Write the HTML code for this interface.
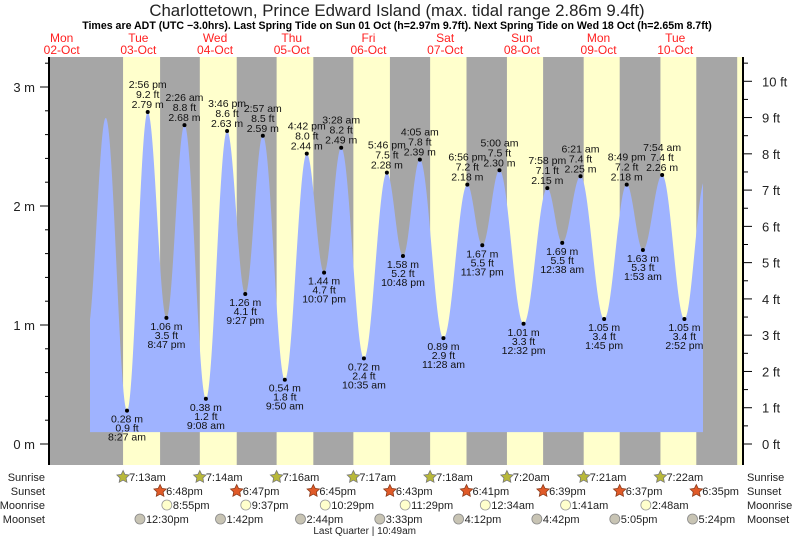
<!DOCTYPE html>
<html><head><meta charset="utf-8"><style>
body{margin:0;background:#fff;width:793px;height:539px;overflow:hidden}
svg{display:block;font-family:"Liberation Sans",sans-serif}
</style></head><body>
<svg id="chart" width="793" height="539" viewBox="0 0 793 539">
<text x="397" y="16" text-anchor="middle" font-size="16.8" fill="#222">Charlottetown, Prince Edward Island (max. tidal range 2.86m 9.4ft)</text>
<text x="397" y="29" text-anchor="middle" font-size="10.6" font-weight="bold" fill="#000">Times are ADT (UTC −3.0hrs). Last Spring Tide on Sun 01 Oct (h=2.97m 9.7ft). Next Spring Tide on Wed 18 Oct (h=2.65m 8.7ft)</text>
<g id="bands"></g><g id="water"></g><g id="axes"></g><g id="marks"></g><g id="labels"></g><g id="astro"></g>
</svg>
<script>
const dayNames=["Mon","Tue","Wed","Thu","Fri","Sat","Sun","Mon","Tue"];
const dayDates=["02-Oct","03-Oct","04-Oct","05-Oct","06-Oct","07-Oct","08-Oct","09-Oct","10-Oct"];
const sunrise=["7:13","7:14","7:16","7:17","7:18","7:20","7:21","7:22","7:23"];
const sunset=["18:48","18:47","18:45","18:43","18:41","18:39","18:37","18:35"];
const sunriseLbl=["7:13am","7:14am","7:16am","7:17am","7:18am","7:20am","7:21am","7:22am"];
const sunsetLbl=["6:48pm","6:47pm","6:45pm","6:43pm","6:41pm","6:39pm","6:37pm","6:35pm"];
const moonriseDay=[0,1,2,3,5,6,7];
const moonriseTime=["20:55","21:37","22:29","23:29","0:34","1:41","2:48"];
const moonriseLbl=["8:55pm","9:37pm","10:29pm","11:29pm","12:34am","1:41am","2:48am"];
const moonsetTime=["12:30","13:42","14:44","15:33","16:12","16:42","17:05","17:24"];
const moonsetLbl=["12:30pm","1:42pm","2:44pm","3:33pm","4:12pm","4:42pm","5:05pm","5:24pm"];
const tideTime=["20:00","1:48","8:27","14:56","20:47","2:26","9:08","15:46","21:27","2:57","9:50","16:42","22:07","3:28","10:35","17:46","22:48","4:05","11:28","18:56","23:37","5:00","12:32","19:58","0:38","6:21","13:45","20:49","1:53","7:54","14:52","21:20"];
const tideM=[0.95,2.74,0.28,2.79,1.06,2.68,0.38,2.63,1.26,2.59,0.54,2.44,1.44,2.49,0.72,2.28,1.58,2.39,0.89,2.18,1.67,2.30,1.01,2.15,1.69,2.25,1.05,2.18,1.63,2.26,1.05,2.22];
const tideFt=["","","0.9","9.2","3.5","8.8","1.2","8.6","4.1","8.5","1.8","8.0","4.7","8.2","2.4","7.5","5.2","7.8","2.9","7.2","5.5","7.5","3.3","7.1","5.5","7.4","3.4","7.2","5.3","7.4","3.4",""];
const tideLbl=["","","8:27 am","2:56 pm","8:47 pm","2:26 am","9:08 am","3:46 pm","9:27 pm","2:57 am","9:50 am","4:42 pm","10:07 pm","3:28 am","10:35 am","5:46 pm","10:48 pm","4:05 am","11:28 am","6:56 pm","11:37 pm","5:00 am","12:32 pm","7:58 pm","12:38 am","6:21 am","1:45 pm","8:49 pm","1:53 am","7:54 am","2:52 pm",""];
const tideDayFix=[-1,0,0,0,0,1,1,1,1,2,2,2,2,3,3,3,3,4,4,4,4,5,5,5,6,6,6,6,7,7,7,7];

const X0=100,PXD=76.7,PLOT_L=50,PLOT_R=742,PLOT_T=57,PLOT_B=465,Y0=444,PXM=119;
const NS="http://www.w3.org/2000/svg";
function hrs(t){const [h,m]=t.split(":").map(Number);return h+m/60;}
function xOf(day,t){return X0+PXD*(day+hrs(t)/24);}
function xH(h){return X0+PXD*h/24;}
function yOf(m){return Y0-m*PXM;}
function mk(tag,attrs,parent){const e=document.createElementNS(NS,tag);for(const k in attrs)e.setAttribute(k,attrs[k]);parent.appendChild(e);return e;}
function txt(s,attrs,parent){const e=mk("text",attrs,parent);e.textContent=s;return e;}
const bands=document.getElementById("bands"),water=document.getElementById("water"),axes=document.getElementById("axes"),marks=document.getElementById("marks"),labels=document.getElementById("labels"),astro=document.getElementById("astro");

let g=mk("rect",{x:PLOT_L,y:PLOT_T,width:PLOT_R-PLOT_L,height:PLOT_B-PLOT_T,fill:"#a6a6a6"},bands);


for(let d=0;d<sunrise.length;d++){
  const x1=xOf(d,sunrise[d]);const x2=d<sunset.length?xOf(d,sunset[d]):PLOT_R;
  const r=mk("rect",{x:x1,y:PLOT_T,width:Math.min(x2,PLOT_R)-x1,height:PLOT_B-PLOT_T,fill:"#ffffcc"},bands);
  
  
}
for(let i=0;i<dayNames.length;i++){
  const x=X0+PXD*(i-1+0.5);
  const t1=txt(dayNames[i],{x:x,y:42,"text-anchor":"middle","font-size":"12",fill:"#ff2020"},axes);
  
  
  const t2=txt(dayDates[i],{x:x,y:54,"text-anchor":"middle","font-size":"12",fill:"#ff2020"},axes);
  
  
}
const th=tideTime.map((t,i)=>tideDayFix[i]*24+hrs(t));
function hAt(h){for(let i=0;i<th.length-1;i++){if(h>=th[i]&&h<=th[i+1]){const f=(h-th[i])/(th[i+1]-th[i]);return tideM[i]+(tideM[i+1]-tideM[i])*(1-Math.cos(Math.PI*f))/2;}}return tideM[tideM.length-1];}
const hs=(90-X0)/PXD*24,he=(703-X0)/PXD*24,yb=yOf(0.1);
let d="M"+xH(hs)+","+yb;
for(let h=hs;h<=he;h+=0.05)d+=" L"+xH(h).toFixed(2)+","+yOf(hAt(h)).toFixed(2);
d+=" L"+xH(he)+","+yOf(hAt(he))+" L"+xH(he)+","+yb+"Z";
const wp=mk("path",{d:d,fill:"#9fb3ff"},water);


const la=mk("line",{x1:49,y1:PLOT_T,x2:49,y2:PLOT_B,stroke:"#000","stroke-width":2},axes);


const ra=mk("line",{x1:743,y1:PLOT_T,x2:743,y2:PLOT_B,stroke:"#000","stroke-width":2},axes);


for(let v=0;v<=3.4;v+=0.2){const y=yOf(v);const maj=Math.abs(v-Math.round(v))<0.01;mk("line",{x1:maj?40:45,y1:y,x2:49,y2:y,stroke:"#000"},axes);
 if(maj){const t=txt(Math.round(v)+" m",{x:35,y:y+5,"text-anchor":"end","font-size":"13",fill:"#222"},axes);}}
for(let v=0;v<=10.6;v+=0.5){const y=Y0-v/3.2808*PXM;if(y<PLOT_T)break;const maj=v%1===0;mk("line",{x1:743,y1:y,x2:maj?752:748,y2:y,stroke:"#000"},axes);
 if(maj){const t=txt(v+" ft",{x:762,y:y+5,"font-size":"13",fill:"#222"},axes);}}
for(let i=0;i<th.length;i++){
  if(!tideLbl[i])continue;
  const x=xH(th[i]),y=yOf(tideM[i]);
  const high=tideM[i]>(tideM[i-1]||0);
  const c=mk("circle",{cx:x,cy:y,r:2,fill:"#000"},marks);
  
  
  const lines=high?[[tideLbl[i],-24],[tideFt[i]+" ft",-14],[tideM[i].toFixed(2)+" m",-4]]:[[tideM[i].toFixed(2)+" m",12],[tideFt[i]+" ft",21],[tideLbl[i],30]];
  for(const [s,dy] of lines){const t=txt(s,{x:x,y:y+dy,"text-anchor":"middle","font-size":"10.5",fill:"#111"},labels);
   
   }
}
const rows=[["Sunrise",477],["Sunset",491],["Moonrise",505],["Moonset",519]];
for(const [n,y] of rows){
 const a=txt(n,{x:45,y:y+4,"text-anchor":"end","font-size":"11","textLength":"","fill":"#222"},astro);a.removeAttribute("textLength");
 const b=txt(n,{x:747,y:y+4,"font-size":"11",fill:"#222"},astro);}
function star(x,y,fill,stroke){let p="";for(let k=0;k<10;k++){const r=k%2?3.2:6.5;const a=-Math.PI/2+k*Math.PI/5;p+=(x+r*Math.cos(a)).toFixed(1)+","+(y+r*Math.sin(a)).toFixed(1)+" ";}return mk("polygon",{points:p,fill:fill,stroke:stroke,"stroke-width":0.8},astro);}
for(let i=0;i<sunriseLbl.length;i++){const x=xOf(i,sunrise[i]);const s=star(x,477,"#b8b83a","#777");
 const t=txt(sunriseLbl[i],{x:x+6,y:481,"font-size":"11",fill:"#222"},astro);}
for(let i=0;i<sunsetLbl.length;i++){const x=xOf(i,sunset[i]);const s=star(x,491,"#e05a28","#8a3a1a");
 const t=txt(sunsetLbl[i],{x:x+6,y:495,"font-size":"11",fill:"#222"},astro);}
for(let i=0;i<moonriseLbl.length;i++){const x=xOf(moonriseDay[i],moonriseTime[i]);const c=mk("circle",{cx:x,cy:505,r:5,fill:"#ffffcc",stroke:"#999","stroke-width":0.8},astro);
 const t=txt(moonriseLbl[i],{x:x+6,y:509,"font-size":"11",fill:"#222"},astro);}
for(let i=0;i<moonsetLbl.length;i++){const x=xOf(i,moonsetTime[i]);const c=mk("circle",{cx:x,cy:519,r:5,fill:"#c8c4b4",stroke:"#888","stroke-width":0.8},astro);
 const t=txt(moonsetLbl[i],{x:x+6,y:523,"font-size":"11",fill:"#222"},astro);}
const lq=txt("Last Quarter | 10:49am",{x:xOf(3,"10:49"),y:534,"text-anchor":"middle","font-size":"10",fill:"#222"},astro);


</script>
</body></html>
